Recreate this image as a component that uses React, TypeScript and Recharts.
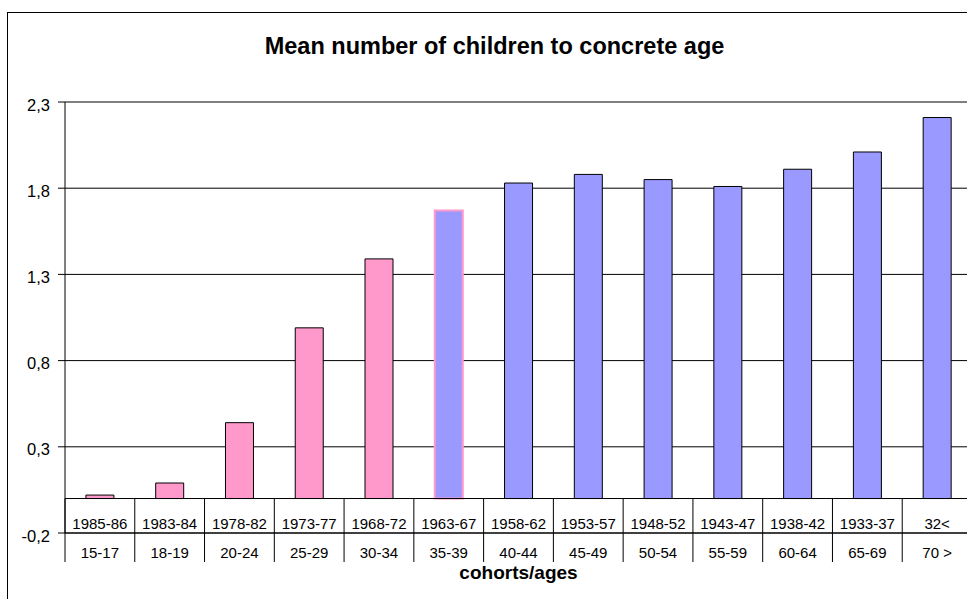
import React from 'react';
import {
  BarChart,
  Bar,
  Cell,
  XAxis,
  YAxis,
  CartesianGrid,
  ReferenceLine
} from 'recharts';

// age groups (bottom row) and the matching birth cohorts (top row)
const ages = ['15-17', '18-19', '20-24', '25-29', '30-34', '35-39', '40-44', '45-49', '50-54', '55-59', '60-64', '65-69', '70 >'];
const cohorts = ['1985-86', '1983-84', '1978-82', '1973-77', '1968-72', '1963-67', '1958-62', '1953-57', '1948-52', '1943-47', '1938-42', '1933-37', '32<'];
const meanChildren = [0.02, 0.09, 0.44, 0.99, 1.39, 1.67, 1.83, 1.88, 1.85, 1.81, 1.91, 2.01, 2.21];
const yTicks = [-0.2, 0.3, 0.8, 1.3, 1.8, 2.3];

const Y_MIN = -0.2;
const Y_MAX = 2.3;

// younger groups are pink, older ones blue, 35-39 sits on the border
const YOUNG_COUNT = 5;
const PINK = '#FF99CC';
const BLUE = '#9999FF';

const FONT = '"Liberation Sans", Arial, sans-serif';

const CHART_W = 1000;
const CHART_H = 599;
const MARGIN = { top: 102, right: 28, bottom: 0, left: 0 };
const Y_AXIS_W = 65;
const X_AXIS_H = 66;
const PLOT_TOP = MARGIN.top;
const PLOT_H = CHART_H - MARGIN.top - MARGIN.bottom - X_AXIS_H;
const PLOT_W = CHART_W - MARGIN.left - MARGIN.right - Y_AXIS_W;
const PLOT_BOTTOM = PLOT_TOP + PLOT_H;
const ZERO_Y = PLOT_TOP + (Y_MAX / (Y_MAX - Y_MIN)) * PLOT_H;

const data = ages.map((age, i) => ({
  age,
  cohort: cohorts[i],
  value: meanChildren[i]
}));

const fmt = (v: number) => v.toFixed(1).replace('.', ',');

// Two-row category table hanging from the zero line
const CategoryTick = ({ x, payload }: any) => {
  const i = payload.index;
  const half = payload.offset ?? PLOT_W / ages.length / 2;
  const left = x - half;
  const right = x + half;
  return (
    <g>
      <line x1={left} x2={left} y1={ZERO_Y} y2={PLOT_BOTTOM + 29} stroke="#000" strokeWidth={1} />
      {i === ages.length - 1 && (
        <line x1={right} x2={right} y1={ZERO_Y} y2={PLOT_BOTTOM + 29} stroke="#000" strokeWidth={1} />
      )}
      <text x={x} y={PLOT_BOTTOM - 4.5} textAnchor="middle" fontSize={15} fontFamily={FONT} fill="#000">
        {cohorts[i]}
      </text>
      <text x={x} y={PLOT_BOTTOM + 25} textAnchor="middle" fontSize={15} fontFamily={FONT} fill="#000">
        {ages[i]}
      </text>
    </g>
  );
};

const ValueTick = ({ x, y, payload }: any) => (
  <text x={x} y={y} dy={8.5} textAnchor="end" fontSize={16.5} fontFamily={FONT} fill="#000">
    {fmt(payload.value)}
  </text>
);

export default function App() {
  return (
    <div
      style={{
        position: 'fixed',
        left: 0,
        top: 0,
        width: 967,
        height: 599,
        overflow: 'hidden',
        background: '#fff'
      }}
    >
      <div
        style={{
          position: 'absolute',
          left: 7,
          top: 12,
          width: 980,
          height: 620,
          border: '1px solid #000'
        }}
      />
      <div
        style={{
          position: 'absolute',
          left: 7,
          top: 34,
          width: 975,
          textAlign: 'center',
          fontFamily: FONT,
          fontWeight: 'bold',
          fontSize: 23.5,
          lineHeight: '24px',
          color: '#000'
        }}
      >
        Mean number of children to concrete age
      </div>
      <div style={{ position: 'absolute', left: 0, top: 0 }}>
        <BarChart
          width={CHART_W}
          height={CHART_H}
          data={data}
          margin={MARGIN}
          barCategoryGap="30%"
        >
          <CartesianGrid horizontal vertical={false} stroke="#000" strokeWidth={1} />
          <XAxis
            dataKey="age"
            height={X_AXIS_H}
            interval={0}
            axisLine={{ stroke: '#000' }}
            tickLine={false}
            tick={<CategoryTick />}
          />
          <YAxis
            width={Y_AXIS_W}
            domain={[Y_MIN, Y_MAX]}
            ticks={yTicks}
            allowDecimals
            axisLine={{ stroke: '#000' }}
            tickLine={{ stroke: '#000' }}
            tickSize={7}
            tickMargin={8}
            tick={<ValueTick />}
          />
          <ReferenceLine y={2.3} stroke="#808080" strokeWidth={1.5} />
          <Bar dataKey="value" isAnimationActive={false}>
            {data.map((_, i) => (
              <Cell
                key={i}
                fill={i < YOUNG_COUNT ? PINK : BLUE}
                stroke={i === YOUNG_COUNT ? PINK : '#000'}
                strokeWidth={i === YOUNG_COUNT ? 2 : 1}
              />
            ))}
          </Bar>
          <ReferenceLine y={0} stroke="#000" strokeWidth={1} />
        </BarChart>
      </div>
      <div
        style={{
          position: 'absolute',
          left: Y_AXIS_W,
          top: 563,
          width: PLOT_W,
          textAlign: 'center',
          fontFamily: FONT,
          fontWeight: 'bold',
          fontSize: 19,
          lineHeight: '20px',
          color: '#000'
        }}
      >
        cohorts/ages
      </div>
    </div>
  );
}
